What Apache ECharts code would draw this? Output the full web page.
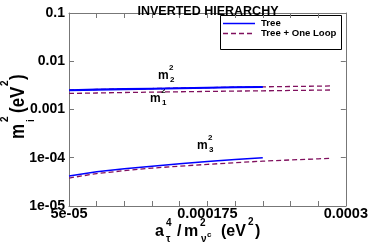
<!DOCTYPE html>
<html><head><meta charset="utf-8">
<script src="https://cdn.jsdelivr.net/npm/echarts@6/dist/echarts.min.js"></script>
<style>html,body{margin:0;padding:0;background:#fff}#c{width:371px;height:248px}</style>
</head><body><div id="c"></div>
<script>
var xTree = [5e-5, 7.5e-5, 1e-4, 1.25e-4, 1.5e-4, 1.75e-4, 2e-4, 2.25e-4];
var xLoop = [5e-5, 7.5e-5, 1e-4, 1.25e-4, 1.5e-4, 1.75e-4, 2e-4, 2.25e-4, 2.5e-4, 2.75e-4, 2.875e-4];
var treeM2 = [2.55e-3, 2.62e-3, 2.68e-3, 2.74e-3, 2.80e-3, 2.86e-3, 2.92e-3, 2.97e-3];
var treeM1 = [2.48e-3, 2.55e-3, 2.61e-3, 2.67e-3, 2.73e-3, 2.79e-3, 2.85e-3, 2.90e-3];
var treeM3 = [4.2e-5, 5.1e-5, 5.9e-5, 6.7e-5, 7.5e-5, 8.4e-5, 9.2e-5, 1.0e-4];
var loopM2 = [2.53e-3, 2.60e-3, 2.66e-3, 2.72e-3, 2.78e-3, 2.84e-3, 2.90e-3, 2.95e-3, 3.00e-3, 3.05e-3, 3.08e-3];
var loopM1 = [2.15e-3, 2.20e-3, 2.25e-3, 2.29e-3, 2.33e-3, 2.37e-3, 2.41e-3, 2.44e-3, 2.48e-3, 2.52e-3, 2.54e-3];
var loopM3 = [3.8e-5, 4.7e-5, 5.4e-5, 6.1e-5, 6.7e-5, 7.3e-5, 7.9e-5, 8.5e-5, 9.0e-5, 9.5e-5, 9.8e-5];
var seriesNames = ['Tree', 'Tree + One Loop'];
var xTickValues = [5e-5, 1.75e-4, 3e-4];
var xTickLabels = ['5e-05', '0.000175', '0.0003'];
var yTickValues = [0.1, 0.01, 0.001, 1e-4, 1e-5];
var yTickLabels = ['0.1', '0.01', '0.001', '1e-04', '1e-05'];

function pairs(xs, ys){ return xs.map(function(x,i){ return [x, ys[i]]; }); }
function lookup(vals, labs, v){
  for (var i=0;i<vals.length;i++){ if (Math.abs(vals[i]-v) <= Math.abs(vals[i])*1e-6) return labs[i]; }
  return '';
}
var BLUE = '#0000ff', PURP = '#80105e';
var FONT = '"Liberation Sans", Arial, sans-serif';
var DASH = [5,3];

function treeSeries(d){ return {name:seriesNames[0], type:'line', data:d, symbol:'none', lineStyle:{color:BLUE, width:1.5}, itemStyle:{color:BLUE}, z:3}; }
function loopSeries(d){ return {name:seriesNames[1], type:'line', data:d, symbol:'none', lineStyle:{color:PURP, width:1.3, type:DASH}, itemStyle:{color:PURP}, z:2}; }

function txt(x, y, s, size){ return {type:'text', x:x, y:y, style:{text:s, font:'bold '+size+'px '+FONT, fill:'#000'}}; }
function mLabel(x, y, sub){
  return {type:'group', x:x, y:y, children:[ txt(0,0,'m',12), txt(11,-6,'2',8), txt(12,6,sub,8) ]};
}

var axisCol = '#777';
var chart = echarts.init(document.getElementById('c'), null, {renderer:'canvas'});
chart.setOption({
  animation:false,
  title:{text:'INVERTED HIERARCHY', left:203, top:0, textAlign:'center', textStyle:{fontFamily:FONT, fontWeight:'bold', fontSize:12.5, color:'#000'}},
  grid:{left:69, right:24, top:13, bottom:42},
  xAxis:[{type:'value', min:5e-5, max:3e-4, interval:2.5e-5, position:'bottom',
    axisLine:{lineStyle:{color:axisCol}}, axisTick:{inside:true, length:5, lineStyle:{color:axisCol}},
    splitLine:{show:false},
    axisLabel:{formatter:function(v){return lookup(xTickValues, xTickLabels, v);}, fontFamily:FONT, fontWeight:'bold', fontSize:14.5, color:'#000', margin:0}},
    {type:'value', min:5e-5, max:3e-4, interval:2.5e-5, position:'top',
    axisLine:{lineStyle:{color:axisCol}}, axisTick:{inside:true, length:5, lineStyle:{color:axisCol}},
    splitLine:{show:false}, axisLabel:{show:false}}],
  yAxis:[{type:'log', logBase:10, min:1e-5, max:0.1, position:'left',
    axisLine:{show:true, lineStyle:{color:axisCol}}, axisTick:{show:true, inside:true, length:5, lineStyle:{color:axisCol}},
    splitLine:{show:false}, minorTick:{show:false},
    axisLabel:{formatter:function(v){return lookup(yTickValues, yTickLabels, v);}, fontFamily:FONT, fontWeight:'bold', fontSize:14, color:'#000', margin:4}},
    {type:'log', logBase:10, min:1e-5, max:0.1, position:'right',
    axisLine:{show:true, lineStyle:{color:axisCol}}, axisTick:{show:true, inside:true, length:5, lineStyle:{color:axisCol}},
    splitLine:{show:false}, axisLabel:{show:false}}],
  series:[
    loopSeries(pairs(xLoop, loopM2)), loopSeries(pairs(xLoop, loopM1)), loopSeries(pairs(xLoop, loopM3)),
    treeSeries(pairs(xTree, treeM2)), treeSeries(pairs(xTree, treeM1)), treeSeries(pairs(xTree, treeM3))
  ],
  graphic:[
    mLabel(158, 70, '2'),
    mLabel(150, 93, '1'),
    mLabel(197, 140, '3'),
    {type:'group', x:9, y:139, rotation:Math.PI/2, scaleY:1.15, children:[
      txt(0,0,'m',17), txt(17,-9,'2',10), txt(17,14,'i',10),
      txt(26,0,'(eV',17), txt(53,-9,'2',10), txt(59,0,')',17)
    ]},
    {type:'group', x:155, y:224, children:[
      txt(0,0,'a',16), txt(11,-6,'4',10), txt(11,10,'τ',10),
      txt(22,0,'/',16), txt(29,0,'m',16), txt(45,-6,'2',10), txt(46,10,'ν',10), txt(52,7,'c',8),
      txt(66,0,'(eV',16), txt(93,-7,'2',10), txt(100,0,')',16)
    ]},
    {type:'group', x:220, y:15, z:10, children:[
      {type:'rect', shape:{x:0.5, y:0.5, width:121, height:34}, style:{fill:'#fff', stroke:'#000', lineWidth:1}},
      {type:'line', shape:{x1:3, y1:8.5, x2:35, y2:8.5}, style:{stroke:BLUE, lineWidth:1.5}},
      {type:'line', shape:{x1:3, y1:18.5, x2:35, y2:18.5}, style:{stroke:PURP, lineWidth:1.3, lineDash:DASH}},
      {type:'text', x:41, y:8.5, style:{text:seriesNames[0], font:'bold 9.6px '+FONT, fill:'#000', verticalAlign:'middle'}},
      {type:'text', x:41, y:18.5, style:{text:seriesNames[1], font:'bold 9.6px '+FONT, fill:'#000', verticalAlign:'middle'}}
    ]}
  ]
});
</script></body></html>
